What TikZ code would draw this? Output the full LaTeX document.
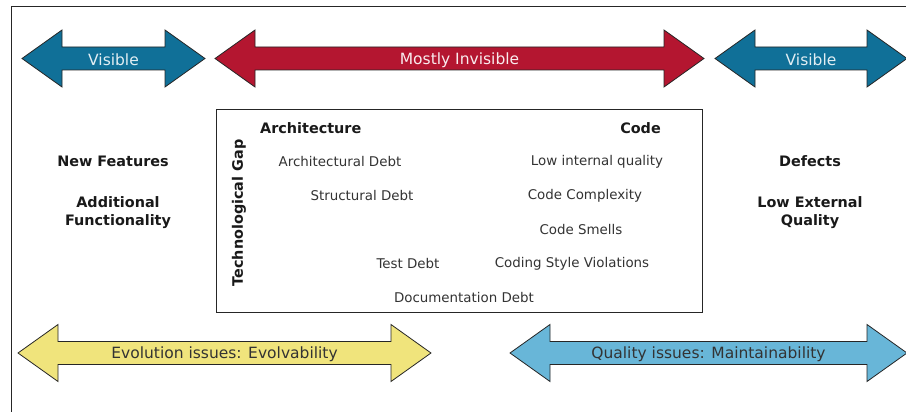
\documentclass[tikz,border=0pt]{standalone}
\usepackage{fontspec}
\setmainfont{DejaVu Sans}
\usepackage{tikz}

\definecolor{visblue}{RGB}{16,112,152}
\definecolor{invred}{RGB}{180,22,48}
\definecolor{evoyellow}{RGB}{240,228,124}
\definecolor{qualblue}{RGB}{104,182,216}
\definecolor{darktext}{RGB}{51,51,51}

% double-headed band: #1 name, #2 left tip, #3 right tip, #4 centre line, #5 fill
\newcommand{\twoway}[5]{%
	\draw[band, fill=#5]
		(#2,#4) -- ++(40,-28.5) -- ++(0,17) -- (#3-40,#4-11.5) -- ++(0,-17)
		-- (#3,#4) -- (#3-40,#4+28.5) -- ++(0,-17) -- (#2+40,#4+11.5)
		-- ++(0,17) -- cycle;
	\coordinate (#1) at ({(#2+#3)/2},#4);
}

\begin{document}
\begin{tikzpicture}[
	x=1pt, y=-1pt,
	band/.style={draw=black!85, line width=0.8pt, line join=miter},
	bandlabel/.style={font=\fontsize{15.5}{18}\selectfont, inner sep=0, yshift=-1.5pt},
	heading/.style={font=\fontsize{14.4}{18}\selectfont\bfseries, text=black!90, align=center, inner sep=0, yshift=-1pt},
	item/.style={font=\fontsize{13.4}{16}\selectfont, text=darktext, inner sep=0, yshift=-1.5pt}
]
	\useasboundingbox (0,0) rectangle (906,412);

	% frame
	\draw[black!85, line width=1pt] (11,412) -- (11,7) -- (906,7);

	% top bands
	\twoway{visl}{22}{205}{58.5}{visblue}
	\twoway{invis}{215}{704}{58.5}{invred}
	\twoway{visr}{715}{907}{58.5}{visblue}
	\node[bandlabel, text=white!88!visblue] (vislabel) at (visl) {Visible};
	\node[bandlabel, text=white!92!invred] (invislabel) at (invis) {Mostly Invisible};
	\node[bandlabel, text=white!88!visblue] (visrlabel) at (visr) {Visible};

	% side texts
	\node[heading] (features) at (113,160) {New Features};
	\node[heading] (functionality) at (118,212) {Additional\\Functionality};
	\node[heading] (defects) at (810,160) {Defects};
	\node[heading] (external) at (810,212) {Low External\\Quality};

	% technological gap box
	\draw[black!85, line width=1pt] (216,110) rectangle (702,312);
	\node[heading, anchor=west] (arch) at (260,127) {Architecture};
	\node[heading, anchor=east] (code) at (661,127) {Code};
	\node[heading, rotate=90, yshift=1pt] (gap) at (240,212) {Technological Gap};

	\node[item] (archdebt) at (340,160) {Architectural Debt};
	\node[item] (structdebt) at (362,194) {Structural Debt};
	\node[item] (lowinternal) at (597,160) {Low internal quality};
	\node[item] (complexity) at (585,194) {Code Complexity};
	\node[item] (smells) at (581,228) {Code Smells};
	\node[item] (testdebt) at (408,262) {Test Debt};
	\node[item] (style) at (572,262) {Coding Style Violations};
	\node[item] (docdebt) at (464,296) {Documentation Debt};

	% bottom bands
	\twoway{evo}{18}{431}{353}{evoyellow}
	\twoway{qual}{510}{907}{353}{qualblue}
	\node[bandlabel, text=darktext] (evolabel) at (evo) {Evolution issues: Evolvability};
	\node[bandlabel, text=darktext] (quallabel) at (qual) {Quality issues: Maintainability};
\end{tikzpicture}
\end{document}
